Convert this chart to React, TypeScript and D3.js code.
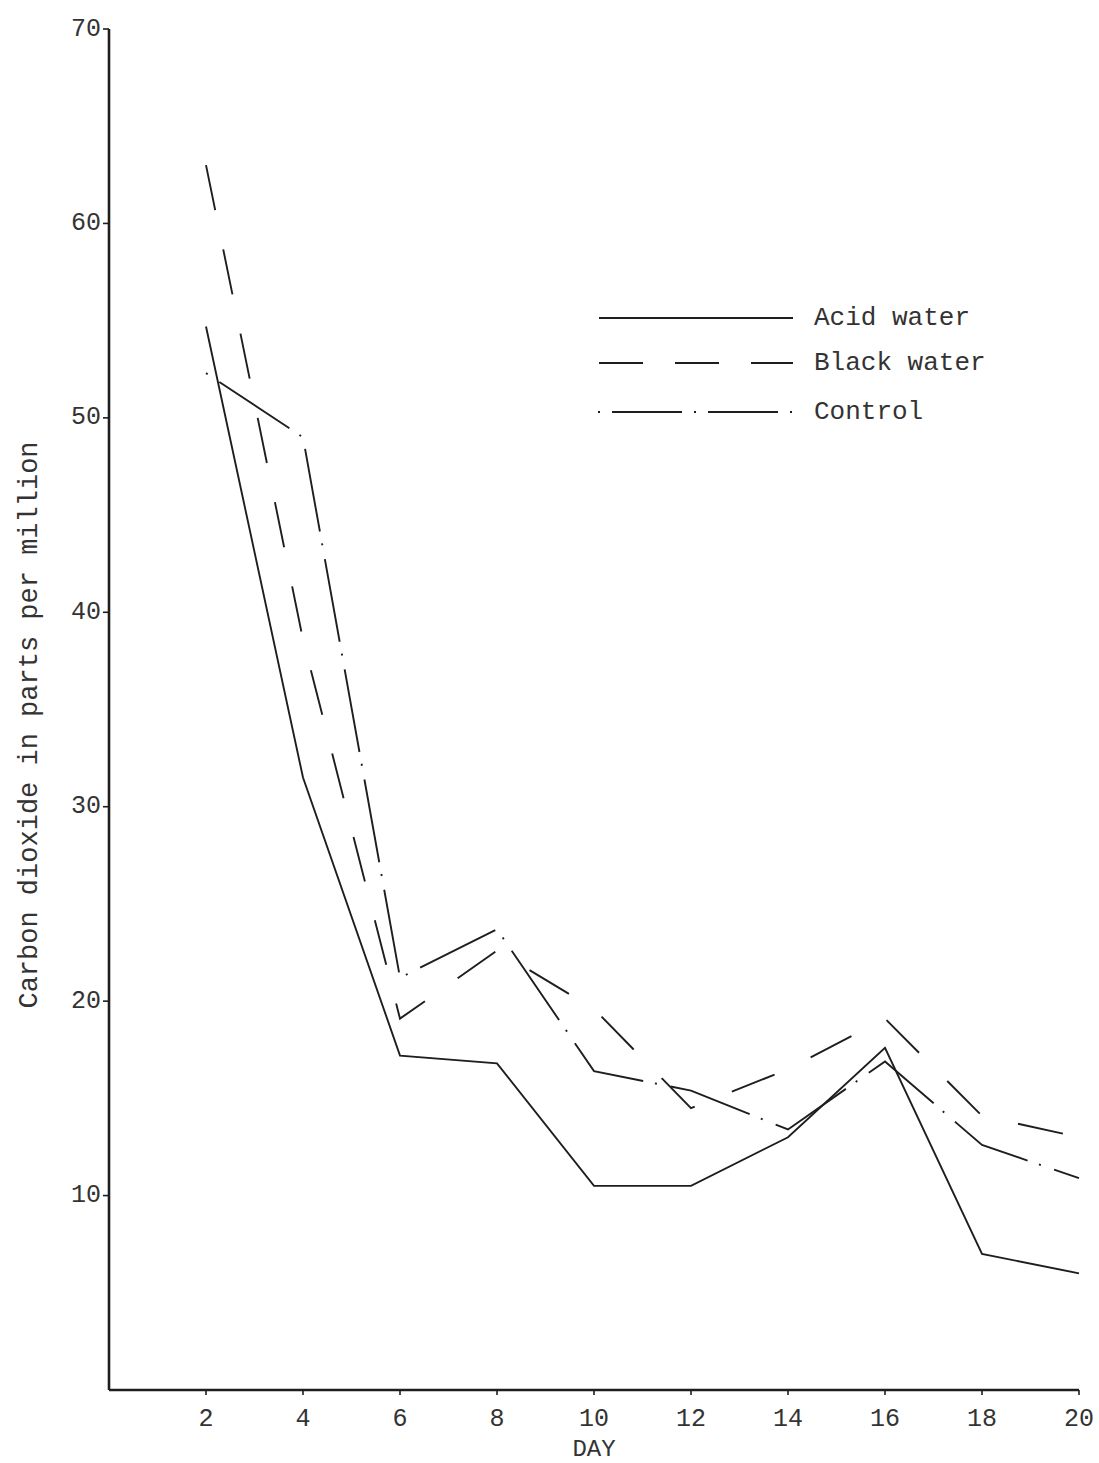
import React from "react";
import * as d3 from "d3";

const days = [2, 4, 6, 8, 10, 12, 14, 16, 18, 20];
const acidWater = [54.7, 31.5, 17.2, 16.8, 10.5, 10.5, 13.0, 17.6, 7.0, 6.0];
const blackWater = [63.0, 38.6, 19.1, 22.6, 19.6, 14.5, 16.5, 19.1, 14.1, 13.0];
const control = [52.3, 49.0, 21.2, 23.7, 16.4, 15.4, 13.4, 16.9, 12.6, 10.9];
const yTicks = [10, 20, 30, 40, 50, 60, 70];
const xTicks = [2, 4, 6, 8, 10, 12, 14, 16, 18, 20];
const seriesNames = ["Acid water", "Black water", "Control"];

const W = 1099;
const H = 1463;
const FONT = "'Liberation Mono', 'DejaVu Sans Mono', monospace";
const INK = "#1e1e1e";

export default function App() {
  const x = d3.scaleLinear().domain([0, 20]).range([109, 1079]);
  const y = d3.scaleLinear().domain([0, 70]).range([1390, 29]);

  const line = d3
    .line<[number, number]>()
    .x((d) => x(d[0]))
    .y((d) => y(d[1]))
    .curve(d3.curveLinear);

  const mk = (vals: number[]) => line(days.map((d, i) => [d, vals[i]] as [number, number])) || "";

  const series = [
    { name: seriesNames[0], vals: acidWater, dash: "none" },
    { name: seriesNames[1], vals: blackWater, dash: "46,40" },
    { name: seriesNames[2], vals: control, dash: "2,14,84,12" },
  ];

  const legendDash = ["none", "44,32", "2,12,70,12"];
  const legendY = [318, 363, 412];

  return (
    <svg
      width={W}
      height={H}
      viewBox={`0 0 ${W} ${H}`}
      style={{ position: "absolute", left: 0, top: 0, background: "#fff" }}
    >
      <rect x={0} y={0} width={W} height={H} fill="#fff" />
      {/* axes */}
      <line x1={x(0)} y1={y(70)} x2={x(0)} y2={y(0)} stroke={INK} strokeWidth={2.6} />
      <line x1={x(0)} y1={y(0)} x2={x(20)} y2={y(0)} stroke={INK} strokeWidth={2.4} />
      {yTicks.map((t) => (
        <g key={"y" + t}>
          <line x1={x(0) - 6} x2={x(0)} y1={y(t)} y2={y(t)} stroke={INK} strokeWidth={1.6} />
          <text
            x={x(0) - 8}
            y={y(t)}
            textAnchor="end"
            dominantBaseline="middle"
            fontFamily={FONT}
            fontSize={25}
            fill="#333"
          >
            {t}
          </text>
        </g>
      ))}
      {xTicks.map((t) => (
        <g key={"x" + t}>
          <line x1={x(t)} x2={x(t)} y1={y(0)} y2={y(0) + 5} stroke={INK} strokeWidth={1.6} />
          <text
            x={x(t)}
            y={y(0) + 29}
            textAnchor="middle"
            dominantBaseline="middle"
            fontFamily={FONT}
            fontSize={25}
            fill="#333"
          >
            {t}
          </text>
        </g>
      ))}
      <text
        x={x(10)}
        y={1450}
        textAnchor="middle"
        dominantBaseline="middle"
        fontFamily={FONT}
        fontSize={24}
        fill="#333"
      >
        DAY
      </text>
      <text
        transform={`translate(30,725) rotate(-90)`}
        textAnchor="middle"
        dominantBaseline="middle"
        fontFamily={FONT}
        fontSize={27}
        fill="#333"
      >
        Carbon dioxide in parts per million
      </text>

      {/* series */}
      {series.map((s) => (
        <path
          key={s.name}
          d={mk(s.vals)}
          fill="none"
          stroke={INK}
          strokeWidth={1.9}
          strokeDasharray={s.dash}
          strokeLinejoin="miter"
        />
      ))}

      {/* legend */}
      {seriesNames.map((n, i) => (
        <g key={"lg" + n}>
          <line
            x1={i === 2 ? 598 : 599}
            x2={793}
            y1={legendY[i]}
            y2={legendY[i]}
            stroke={INK}
            strokeWidth={1.8}
            strokeDasharray={legendDash[i]}
          />
          <text
            x={814}
            y={legendY[i]}
            dominantBaseline="middle"
            fontFamily={FONT}
            fontSize={26}
            fill="#333"
          >
            {n}
          </text>
        </g>
      ))}
    </svg>
  );
}
